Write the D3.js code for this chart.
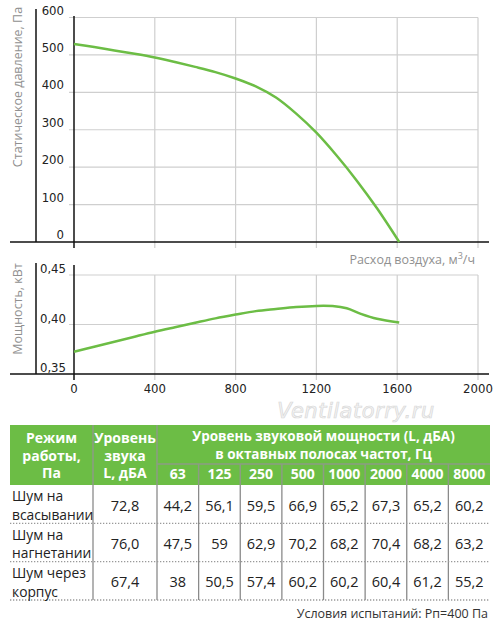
<!DOCTYPE html>
<html>
<head>
<meta charset="utf-8">
<script src="https://cdn.jsdelivr.net/npm/d3@7"></script>
<style>
  body { margin: 0; background: #fff; }
  svg { display: block; }
  .tick { font-family: "Liberation Sans Narrow", "DejaVu Sans Condensed", "Roboto Condensed", sans-serif; font-stretch: condensed; font-size: 13px; fill: #222; }
  .title { font-family: "Open Sans", sans-serif; font-size: 12.5px; fill: #909090; }
  .tbl { font-family: "Open Sans", sans-serif; }
</style>
</head>
<body>
<div id="chart"></div>
<script>
// pressure curve
var flowP = [0, 100, 200, 300, 400, 500, 600, 700, 800, 900, 1000, 1100, 1200, 1300, 1400, 1500, 1610];
var pressure = [529, 521, 512, 503, 493, 481, 468, 454, 437, 416, 386, 343, 292, 231, 164, 90, 0];

// power curve
var flowW = [0, 100, 200, 300, 400, 500, 600, 700, 800, 900, 1000, 1100, 1200, 1280, 1350, 1420, 1500, 1610];
var power = [0.3725, 0.3776, 0.3826, 0.3877, 0.3927, 0.3973, 0.4018, 0.4062, 0.4100, 0.4135, 0.4157, 0.4177, 0.4188, 0.4186, 0.4164, 0.4108, 0.4058, 0.4020];

var xTicks = [0, 400, 800, 1200, 1600, 2000];
var pTicks = [0, 100, 200, 300, 400, 500, 600];
var wTicks = [0.35, 0.40, 0.45];

// noise table
var modes = [["Шум на", "всасывании"], ["Шум на", "нагнетании"], ["Шум через", "корпус"]];
var totalLevel = ["72,8", "76,0", "67,4"];
var bands = ["63", "125", "250", "500", "1000", "2000", "4000", "8000"];
var bandLevels = [
  ["44,2", "56,1", "59,5", "66,9", "65,2", "67,3", "65,2", "60,2"],
  ["47,5", "59", "62,9", "70,2", "68,2", "70,4", "68,2", "63,2"],
  ["38", "50,5", "57,4", "60,2", "60,2", "60,4", "61,2", "55,2"]
];

var green = "#6cbd45";
var grid = "#cfcfcf";

var svg = d3.select("#chart").append("svg")
  .attr("width", 500)
  .attr("height", 626);

var x = d3.scaleLinear().domain([0, 2000]).range([74, 478]);
var yP = d3.scaleLinear().domain([0, 600]).range([242, 17.5]);
var yW = d3.scaleLinear().domain([0.35, 0.45]).range([374, 275]);

// ---------- top chart ----------
var gTop = svg.append("g");
gTop.selectAll("line.hg").data(pTicks.filter(function(d){ return d > 0; }))
  .enter().append("line")
  .attr("x1", 69).attr("x2", x(2000))
  .attr("y1", function(d){ return yP(d); }).attr("y2", function(d){ return yP(d); })
  .attr("stroke", grid).attr("stroke-width", 1.2);
gTop.selectAll("line.vg").data(xTicks.filter(function(d){ return d > 0; }))
  .enter().append("line")
  .attr("x1", function(d){ return x(d); }).attr("x2", function(d){ return x(d); })
  .attr("y1", yP(600)).attr("y2", 248)
  .attr("stroke", grid).attr("stroke-width", 1.2);
gTop.append("line").attr("x1", 36).attr("x2", 36).attr("y1", 9).attr("y2", 242)
  .attr("stroke", "#111").attr("stroke-width", 1.5);
gTop.append("line").attr("x1", 10).attr("x2", 489).attr("y1", yP(0)).attr("y2", yP(0))
  .attr("stroke", "#111").attr("stroke-width", 1.5);
gTop.append("line").attr("x1", x(0)).attr("x2", x(0)).attr("y1", 16).attr("y2", 248)
  .attr("stroke", "#111").attr("stroke-width", 1.5);
gTop.selectAll("text.yl").data(pTicks).enter().append("text")
  .attr("class", "tick")
  .attr("x", 64).attr("y", function(d){ return yP(d) - 3; })
  .attr("text-anchor", "end")
  .text(function(d){ return d; });
gTop.append("text").attr("class", "title")
  .attr("transform", "translate(22,87) rotate(-90)")
  .attr("text-anchor", "middle")
  .text("Статическое давление, Па");

var lineP = d3.line()
  .x(function(d, i){ return x(flowP[i]); })
  .y(function(d){ return yP(d); })
  .curve(d3.curveCatmullRom);
gTop.append("path").attr("d", lineP(pressure))
  .attr("fill", "none").attr("stroke", green).attr("stroke-width", 2.5);

svg.append("text").attr("class", "title")
  .attr("x", 475).attr("y", 264).attr("text-anchor", "end")
  .html("Расход воздуха, м<tspan dy='-5' font-size='9'>3</tspan><tspan dy='5'>/ч</tspan>");

// ---------- bottom chart ----------
var gBot = svg.append("g");
gBot.selectAll("line.hg").data(wTicks.filter(function(d){ return d > 0.35; }))
  .enter().append("line")
  .attr("x1", 69).attr("x2", x(2000))
  .attr("y1", function(d){ return yW(d); }).attr("y2", function(d){ return yW(d); })
  .attr("stroke", grid).attr("stroke-width", 1.2);
gBot.selectAll("line.vg").data(xTicks.filter(function(d){ return d > 0; }))
  .enter().append("line")
  .attr("x1", function(d){ return x(d); }).attr("x2", function(d){ return x(d); })
  .attr("y1", yW(0.45)).attr("y2", 380)
  .attr("stroke", grid).attr("stroke-width", 1.2);
gBot.append("line").attr("x1", 36).attr("x2", 36).attr("y1", 263).attr("y2", 374)
  .attr("stroke", "#111").attr("stroke-width", 1.5);
gBot.append("line").attr("x1", 10).attr("x2", 489).attr("y1", yW(0.35)).attr("y2", yW(0.35))
  .attr("stroke", "#111").attr("stroke-width", 1.5);
gBot.append("line").attr("x1", x(0)).attr("x2", x(0)).attr("y1", 265).attr("y2", 380)
  .attr("stroke", "#111").attr("stroke-width", 1.5);
gBot.selectAll("text.yl").data(wTicks).enter().append("text")
  .attr("class", "tick")
  .attr("x", 66).attr("y", function(d){ return yW(d) - 2; })
  .attr("text-anchor", "end")
  .text(function(d){ return d3.format(".2f")(d).replace(".", ","); });
gBot.selectAll("text.xl").data(xTicks).enter().append("text")
  .attr("class", "tick")
  .attr("x", function(d){ return x(d); }).attr("y", 393)
  .attr("text-anchor", "middle")
  .text(function(d){ return d; });
gBot.append("text").attr("class", "title")
  .attr("transform", "translate(22,309) rotate(-90)")
  .attr("text-anchor", "middle")
  .text("Мощность, кВт");

var lineW = d3.line()
  .x(function(d, i){ return x(flowW[i]); })
  .y(function(d){ return yW(d); })
  .curve(d3.curveCatmullRom);
gBot.append("path").attr("d", lineW(power))
  .attr("fill", "none").attr("stroke", green).attr("stroke-width", 2.5);

// watermark
svg.append("text")
  .attr("x", 356).attr("y", 418).attr("text-anchor", "middle")
  .attr("font-family", "DejaVu Sans, sans-serif").attr("font-style", "italic")
  .attr("font-size", 21).attr("letter-spacing", 0.5)
  .attr("fill", "#f4f4f4").attr("stroke", "#d8d8d8").attr("stroke-width", 0.7)
  .text("Ventilatorry.ru");

// ---------- table ----------
var tb = svg.append("g").attr("class", "tbl");
var bx = d3.scaleBand().domain(bands).range([157, 490]);
var hTop = 425, hMid = 464, hBot = 485;
var rowY = d3.scaleBand().domain(d3.range(modes.length)).range([hBot, 600]);

tb.append("rect").attr("x", 10).attr("y", hTop).attr("width", 480).attr("height", hBot - hTop)
  .attr("fill", green);

// header separators
tb.selectAll("line.hs").data([93, 157]).enter().append("line")
  .attr("x1", function(d){ return d; }).attr("x2", function(d){ return d; })
  .attr("y1", hTop).attr("y2", hBot).attr("stroke", "#8c9c84").attr("stroke-width", 1.5);
tb.append("line").attr("x1", 157).attr("x2", 490).attr("y1", hMid).attr("y2", hMid)
  .attr("stroke", "#8c9c84").attr("stroke-width", 1.5);
tb.selectAll("line.bs").data(bands.slice(1)).enter().append("line")
  .attr("x1", function(d){ return bx(d); }).attr("x2", function(d){ return bx(d); })
  .attr("y1", hMid).attr("y2", hBot).attr("stroke", "#8c9c84").attr("stroke-width", 1.5);

function headText(lines, cx, y0, dy, size) {
  var t = tb.append("text")
    .attr("x", cx).attr("y", y0)
    .attr("text-anchor", "middle").attr("font-weight", "bold")
    .attr("font-size", size).attr("fill", "#fff");
  lines.forEach(function(s, i){
    t.append("tspan").attr("x", cx).attr("dy", i ? dy : 0).text(s);
  });
}
headText(["Режим", "работы,", "Па"], 51.5, 443, 17.5, 14);
headText(["Уровень", "звука", "L, дБА"], 125, 443, 17.5, 14);
headText(["Уровень звуковой мощности (L, дБА)", "в октавных полосах частот, Гц"], 323.5, 441, 17.5, 13.5);
tb.selectAll("text.band").data(bands).enter().append("text")
  .attr("x", function(d){ return bx(d) + bx.bandwidth() / 2; }).attr("y", 479)
  .attr("text-anchor", "middle").attr("font-weight", "bold")
  .attr("font-size", 14).attr("fill", "#fff")
  .text(function(d){ return d; });

// body separators
tb.selectAll("line.bv").data([93, 157].concat(bands.slice(1).map(function(d){ return bx(d); })))
  .enter().append("line")
  .attr("x1", function(d){ return d; }).attr("x2", function(d){ return d; })
  .attr("y1", hBot).attr("y2", 600).attr("stroke", "#8a8a8a").attr("stroke-width", 1.3);
tb.selectAll("line.bh").data(d3.range(modes.length)).enter().append("line")
  .attr("x1", 10).attr("x2", 490)
  .attr("y1", function(d){ return rowY(d) + rowY.bandwidth(); })
  .attr("y2", function(d){ return rowY(d) + rowY.bandwidth(); })
  .attr("stroke", "#999").attr("stroke-width", 1.3).attr("stroke-dasharray", "1.3,1.7");

modes.forEach(function(m, r){
  var y0 = rowY(r);
  var lbl = tb.append("text").attr("x", 12).attr("y", y0 + 16.3)
    .attr("font-size", 13.8).attr("fill", "#222");
  m.forEach(function(t, i){
    lbl.append("tspan").attr("x", 12).attr("dy", i ? 18.8 : 0).text(t);
  });
  tb.append("text").attr("x", 125).attr("y", y0 + 25.5)
    .attr("text-anchor", "middle").attr("font-size", 14.5).attr("fill", "#222")
    .text(totalLevel[r]);
  bandLevels[r].forEach(function(v, j){
    tb.append("text").attr("x", bx(bands[j]) + bx.bandwidth() / 2).attr("y", y0 + 25.5)
      .attr("text-anchor", "middle").attr("font-size", 14.5).attr("fill", "#222")
      .text(v);
  });
});

svg.append("text").attr("class", "tbl")
  .attr("x", 488).attr("y", 618).attr("text-anchor", "end")
  .attr("font-size", 12.5).attr("fill", "#333")
  .text("Условия испытаний: Рп=400 Па");
</script>
</body>
</html>
